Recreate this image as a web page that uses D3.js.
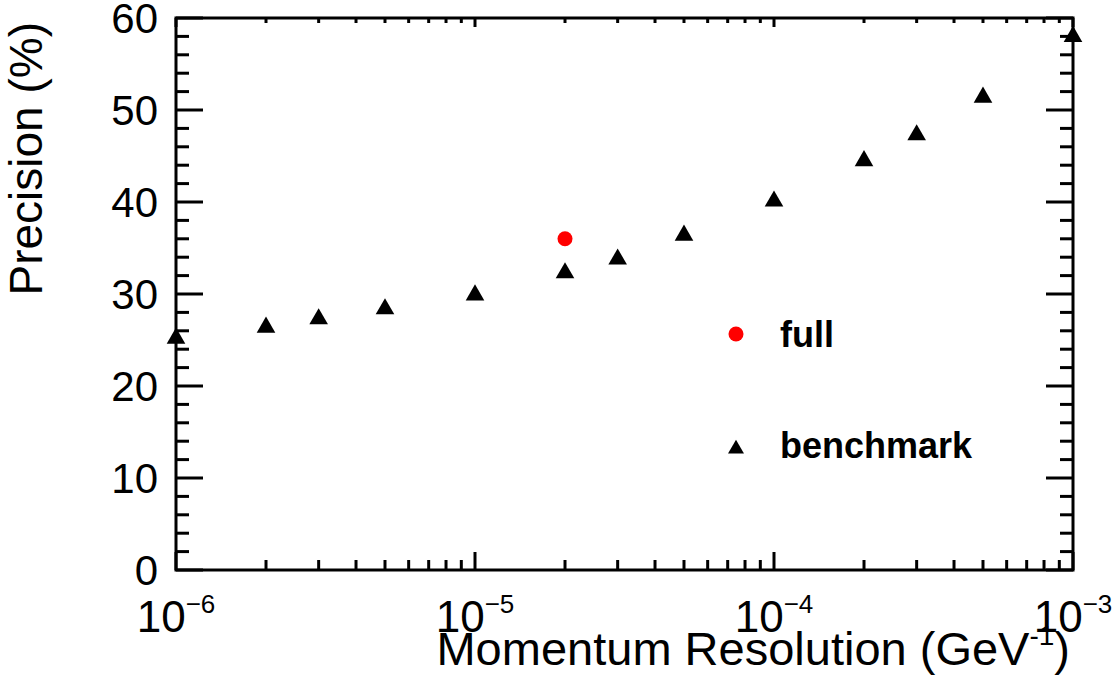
<!DOCTYPE html>
<html>
<head>
<meta charset="utf-8">
<script src="https://cdn.jsdelivr.net/npm/d3@7"></script>
<style>
  body { margin: 0; background: #fff; }
  text { font-family: "Liberation Sans", Arial, Helvetica, sans-serif; }
</style>
</head>
<body>
<div id="chart"></div>
<script>
// data
const resolution = [1e-6, 2e-6, 3e-6, 5e-6, 1e-5, 2e-5, 3e-5, 5e-5, 1e-4, 2e-4, 3e-4, 5e-4, 1e-3];
const benchmark = [25.4, 26.6, 27.5, 28.6, 30.1, 32.5, 34.0, 36.6, 40.3, 44.7, 47.5, 51.6, 58.2];
const fullRes = [2e-5];
const fullPrec = [36.0];
const yTicks = [0, 10, 20, 30, 40, 50, 60];
const xTickExp = [-6, -5, -4, -3];

const width = 1114;
const height = 684;
const margin = { top: 18, right: 41, bottom: 114, left: 176 };

const x = d3.scaleLog()
  .domain([1e-6, 1e-3])
  .range([margin.left, width - margin.right]);

const y = d3.scaleLinear()
  .domain([0, 60])
  .range([height - margin.bottom, margin.top]);

const svg = d3.select("#chart")
  .append("svg")
  .attr("width", width)
  .attr("height", height);

const x0 = margin.left, x1 = width - margin.right;
const y0 = height - margin.bottom, y1 = margin.top;

// minor / major ticks
const xMajor = xTickExp.map(e => Math.pow(10, e));
const xMinor = [];
xMajor.slice(0, -1).forEach(m => {
  for (let k = 2; k <= 9; k++) xMinor.push(m * k);
});
const yMinor = d3.range(0, 61, 2).filter(v => v % 10 !== 0);

const ticks = svg.append("g")
  .attr("stroke", "#000")
  .attr("stroke-width", 3);

function xTick(v, len) {
  ticks.append("line").attr("x1", x(v)).attr("x2", x(v)).attr("y1", y0).attr("y2", y0 - len);
  ticks.append("line").attr("x1", x(v)).attr("x2", x(v)).attr("y1", y1).attr("y2", y1 + len * 0.5);
}
function yTick(v, len) {
  ticks.append("line").attr("y1", y(v)).attr("y2", y(v)).attr("x1", x0).attr("x2", x0 + len);
  ticks.append("line").attr("y1", y(v)).attr("y2", y(v)).attr("x1", x1).attr("x2", x1 - len);
}
xMajor.forEach(v => xTick(v, 18));
xMinor.forEach(v => xTick(v, 10));
yTicks.forEach(v => yTick(v, 27));
yMinor.forEach(v => yTick(v, 13));

// frame
svg.append("rect")
  .attr("x", x0)
  .attr("y", y1)
  .attr("width", x1 - x0)
  .attr("height", y0 - y1)
  .attr("fill", "none")
  .attr("stroke", "#000")
  .attr("stroke-width", 3);

// y tick labels
svg.append("g")
  .selectAll("text")
  .data(yTicks)
  .join("text")
  .attr("x", 158)
  .attr("y", d => y(d))
  .attr("dy", "0.36em")
  .attr("text-anchor", "end")
  .attr("font-size", 42)
  .text(d => d);

// x tick labels 10^n
const xl = svg.append("g")
  .selectAll("text")
  .data(xTickExp)
  .join("text")
  .attr("x", d => x(Math.pow(10, d)))
  .attr("y", 632)
  .attr("text-anchor", "middle")
  .attr("font-size", 44);
xl.append("tspan").text("10");
xl.append("tspan")
  .attr("font-size", 26)
  .attr("dy", -19)
  .text(d => "\u2212" + Math.abs(d));

// axis titles
const xt = svg.append("text")
  .attr("x", 1070)
  .attr("y", 665)
  .attr("text-anchor", "end")
  .attr("font-size", 47);
xt.append("tspan").text("Momentum Resolution (GeV");
xt.append("tspan").attr("font-size", 28).attr("dy", -20).text("-1");
xt.append("tspan").attr("dy", 20).text(")");

svg.append("text")
  .attr("transform", "translate(42,22) rotate(-90)")
  .attr("text-anchor", "end")
  .attr("font-size", 46)
  .text("Precision (%)");

// benchmark triangles
const tri = d3.symbol().type(d3.symbolTriangle).size(150);
svg.append("g")
  .selectAll("path")
  .data(resolution)
  .join("path")
  .attr("d", tri)
  .attr("transform", (d, i) => `translate(${x(d)},${y(benchmark[i]) + 2})`)
  .attr("fill", "#000");

// full point
svg.append("g")
  .selectAll("circle")
  .data(fullRes)
  .join("circle")
  .attr("cx", d => x(d))
  .attr("cy", (d, i) => y(fullPrec[i]))
  .attr("r", 7.5)
  .attr("fill", "#ff0000");

// legend
const legend = svg.append("g");
legend.append("circle")
  .attr("cx", 736)
  .attr("cy", 334)
  .attr("r", 7.5)
  .attr("fill", "#ff0000");
legend.append("path")
  .attr("d", d3.symbol().type(d3.symbolTriangle).size(110))
  .attr("transform", "translate(736,449)")
  .attr("fill", "#000");
legend.append("text")
  .attr("x", 780)
  .attr("y", 347)
  .attr("font-size", 36)
  .attr("font-weight", "bold")
  .text("full");
legend.append("text")
  .attr("x", 780)
  .attr("y", 458)
  .attr("font-size", 36)
  .attr("font-weight", "bold")
  .text("benchmark");
</script>
</body>
</html>
